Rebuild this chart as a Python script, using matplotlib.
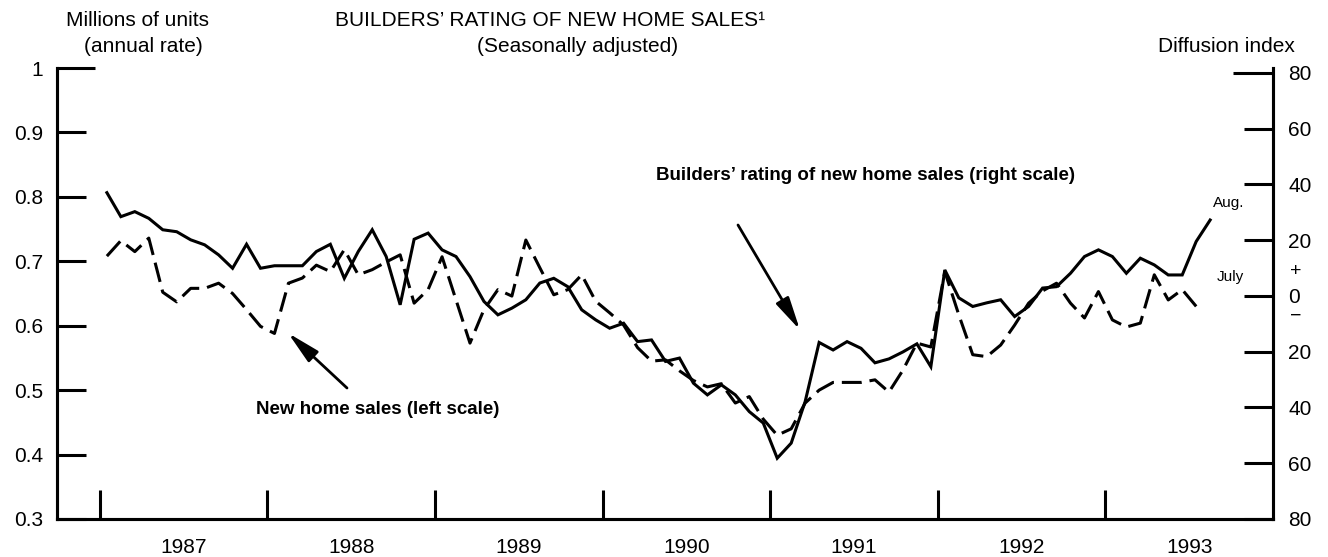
import matplotlib
matplotlib.use('Agg')
import matplotlib.pyplot as plt
import matplotlib.transforms as mtransforms

plt.rcParams['font.family'] = ['Liberation Sans', 'DejaVu Sans']

# monthly data, Jan 1987 onward
start_year = 1987
# builders' rating of new home sales, diffusion index (right scale), Jan 1987 - Aug 1993
builders_rating = [
    37.0, 28.4, 30.2, 27.8, 23.7, 23.0, 20.1, 18.3, 14.7, 9.9, 18.5, 9.9,
    10.8, 10.8, 10.8, 15.9, 18.5, 6.3, 15.9, 23.7, 14.1, -3.2, 20.3, 22.5,
    16.5, 14.1, 6.9, -2.0, -6.8, -4.4, -1.4, 4.6, 6.3, 3.3, -5.0, -8.6,
    -11.6, -9.8, -16.4, -15.8, -23.5, -22.3, -31.3, -35.5, -31.9, -35.5, -41.5, -45.6,
    -58.2, -52.8, -37.9, -16.7, -19.4, -16.4, -18.8, -24.0, -22.6, -20.1, -17.2, -25.4,
    9.3, -0.7, -3.8, -2.5, -1.4, -7.4, -3.8, 2.8, 3.3, 8.1, 14.1, 16.5,
    14.1, 8.1, 13.5, 11.1, 7.5, 7.5, 19.5, 27.2,
]
# new home sales, millions of units at annual rate (left scale), Jan 1987 - Jul 1993
new_home_sales = [
    0.708, 0.732, 0.715, 0.736, 0.652, 0.637, 0.658, 0.658, 0.666, 0.650, 0.625, 0.599,
    0.588, 0.666, 0.674, 0.694, 0.684, 0.718, 0.679, 0.687, 0.699, 0.710, 0.635, 0.656,
    0.707, 0.640, 0.573, 0.625, 0.656, 0.646, 0.733, 0.690, 0.648, 0.656, 0.679, 0.638,
    0.620, 0.601, 0.566, 0.545, 0.547, 0.530, 0.515, 0.505, 0.510, 0.480, 0.490, 0.455,
    0.430, 0.440, 0.480, 0.500, 0.512, 0.512, 0.512, 0.516, 0.497, 0.531, 0.573, 0.567,
    0.684, 0.617, 0.555, 0.552, 0.570, 0.601, 0.635, 0.654, 0.666, 0.635, 0.612, 0.653,
    0.609, 0.598, 0.604, 0.679, 0.640, 0.656, 0.630,
]
years = [1987, 1988, 1989, 1990, 1991, 1992, 1993]
left_ticks = [0.3, 0.4, 0.5, 0.6, 0.7, 0.8, 0.9, 1.0]
left_labels = ['0.3', '0.4', '0.5', '0.6', '0.7', '0.8', '0.9', '1']
right_ticks = [-80, -60, -40, -20, 0, 20, 40, 60, 80]

x_br = [start_year + (i + 0.5) / 12 for i in range(len(builders_rating))]
x_nhs = [start_year + (i + 0.5) / 12 for i in range(len(new_home_sales))]

W, H = 1328, 557
fig = plt.figure(figsize=(W / 100, H / 100), dpi=100)
ax = fig.add_axes([57 / W, 38 / H, (1273 - 57) / W, (519 - 68) / H])
ax2 = ax.twinx()

def px(x, y):
    return (x / W, 1 - y / H)

lw = 2.2
ax.plot(x_nhs, new_home_sales, color='black', lw=lw, dashes=(6.5, 2.6))
ax2.plot(x_br, builders_rating, color='black', lw=lw, solid_joinstyle='miter')

ax.set_xlim(1986.744, 1994.0)
ax.set_ylim(0.3, 1.0)
ax2.set_ylim(-80, 81.7)

ax.set_yticks(left_ticks)
ax.set_yticklabels(left_labels)
ax.set_xticks(years)
ax.set_xticklabels([])
ax.set_xticks([y + 0.5 for y in years], minor=True)
ax.set_xticklabels([str(y) for y in years], minor=True)
ax.tick_params(axis='x', which='major', direction='in', length=21, width=lw)
ax.tick_params(axis='x', which='minor', length=0, labelsize=15, pad=14)
ax.tick_params(axis='y', direction='in', length=21, width=lw, labelsize=15, pad=10)

ax2.set_yticks(right_ticks)
ax2.set_yticklabels([str(abs(t)) for t in right_ticks])
ax2.tick_params(axis='y', direction='in', length=21, width=lw, labelsize=15, pad=11)

# top ticks are a bit longer on both scales
ax.yaxis.get_major_ticks()[-1].tick1line.set_markersize(27)
ax2.yaxis.get_major_ticks()[-1].tick2line.set_markersize(29)

for a in (ax, ax2):
    a.spines['top'].set_visible(False)
    for s in ('left', 'right', 'bottom'):
        a.spines[s].set_linewidth(lw)

trans = mtransforms.blended_transform_factory(ax2.transAxes, ax2.transData)
ax2.text(1.0185, 8.8, '+', transform=trans, ha='center', va='center', fontsize=14)
ax2.text(1.0185, -7.2, '\u2212', transform=trans, ha='center', va='center', fontsize=14)

fig.text(*px(138, 20), 'Millions of units', ha='center', va='center', fontsize=15)
fig.text(*px(143, 47), '(annual rate)', ha='center', va='center', fontsize=15)
fig.text(*px(550, 20), 'BUILDERS\u2019 RATING OF NEW HOME SALES\u00b9', ha='center', va='center', fontsize=15)
fig.text(*px(578, 47), '(Seasonally adjusted)', ha='center', va='center', fontsize=15)
fig.text(*px(1226, 46), 'Diffusion index', ha='center', va='center', fontsize=15)

fig.text(*px(1229, 203), 'Aug.', ha='center', va='center', fontsize=11)
fig.text(*px(1230, 277), 'July', ha='center', va='center', fontsize=11)

ap = dict(arrowstyle='-|>,head_width=0.22,head_length=1.0', lw=2.0, color='black',
          mutation_scale=20, shrinkA=0, shrinkB=0)
fig.text(*px(378, 410), 'New home sales (left scale)', ha='center', va='center',
         fontsize=13.5, fontweight='bold')
ax.annotate('', xy=px(288, 333), xycoords='figure fraction',
            xytext=px(347, 388), textcoords='figure fraction', arrowprops=ap)
fig.text(*px(865, 176), 'Builders\u2019 rating of new home sales (right scale)', ha='center',
         va='center', fontsize=13.5, fontweight='bold')
ax.annotate('', xy=px(800, 330), xycoords='figure fraction',
            xytext=px(738, 225), textcoords='figure fraction', arrowprops=ap)

fig.savefig('out.png', dpi=100)
